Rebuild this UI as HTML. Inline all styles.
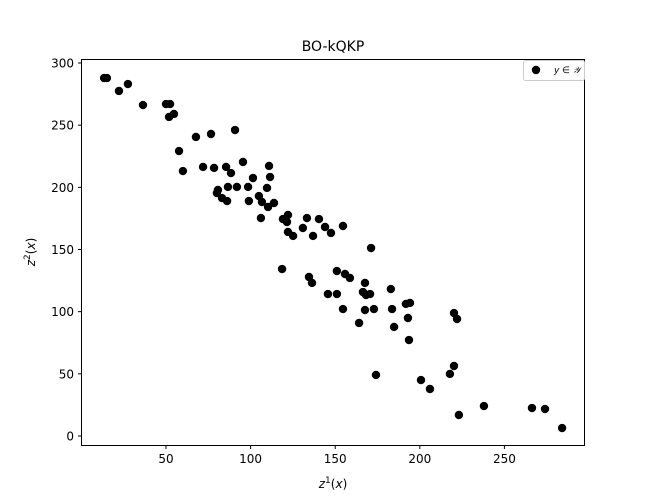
<!DOCTYPE html>
<html><head><meta charset="utf-8"><style>
html,body{margin:0;padding:0;background:#fff;width:650px;height:500px;overflow:hidden}
svg{display:block}
svg text{font-family:"DejaVu Sans","Liberation Sans",sans-serif;fill:#000}
</style></head><body>
<svg id="chart" width="650" height="500">
<rect width="650" height="500" fill="#fff"/>
<text x="333" y="51" font-size="14" text-anchor="middle">BO-kQKP</text>
<g id="marks"></g>
<rect x="81.5" y="59.5" width="503" height="386" fill="none" stroke="#000" stroke-width="1"/>
<g id="xt"></g>
<g id="yt"></g>
<text x="333" y="488" font-size="12" text-anchor="middle" font-style="italic">z<tspan font-style="normal" dy="-5" font-size="9">1</tspan><tspan font-style="normal" dy="5">(</tspan>x<tspan font-style="normal">)</tspan></text>
<text transform="translate(35,252) rotate(-90)" font-size="12" text-anchor="middle" font-style="italic">z<tspan font-style="normal" dy="-5" font-size="9">2</tspan><tspan font-style="normal" dy="5">(</tspan>x<tspan font-style="normal">)</tspan></text>
<g>
<rect x="523.5" y="60.5" width="61" height="20" rx="2" fill="#fff" stroke="#ccc"/>
<circle cx="536" cy="70" r="4.2" fill="#000"/>
<text x="554" y="73" font-size="9" font-style="italic" font-family="Liberation Serif,serif">y ∈ 𝒴</text>
</g>
</svg>
<script>
const xs=[13.4,15.1,22.2,27.5,36.4,50.0,52.4,51.8,54.7,67.7,76.6,90.8,57.7,60.0,71.9,78.4,85.5,88.4,95.5,101.4,110.9,111.5,109.7,86.6,91.9,98.5,80.7,80.1,83.1,86.1,99.0,104.9,106.7,110.3,113.8,106.1,119.1,122.1,121.5,122.1,125.1,133.3,130.9,136.9,140.4,144.0,147.5,154.6,171.2,118.6,134.5,136.3,151.0,155.8,158.7,167.6,166.4,170.6,168.2,145.7,151.0,182.9,154.6,167.6,172.9,183.6,191.8,194.2,193.0,164.1,184.8,193.6,220.2,222.0,174.1,200.7,206.0,220.2,217.8,223.1,237.9,266.3,274.0,284.1];
const ys=[287.9,287.9,277.5,283.1,266.2,267.0,267.0,256.6,259.0,240.5,242.9,246.1,229.2,213.1,216.4,215.6,216.4,211.5,220.4,207.5,217.2,208.3,199.5,200.3,200.3,200.3,197.9,195.4,191.4,189.0,189.0,193.0,188.2,184.2,187.4,175.3,174.5,177.8,172.1,164.1,160.9,175.3,167.3,160.9,174.5,168.1,163.3,168.9,151.2,134.3,127.9,123.1,132.7,130.3,127.1,123.1,115.8,114.2,113.4,114.2,114.2,118.2,102.1,101.3,102.1,102.1,106.2,107.0,94.9,90.9,87.7,77.2,98.9,94.1,49.1,45.0,37.8,56.3,49.9,16.9,24.1,22.5,21.7,6.4];
const xTicks=[50,100,150,200,250];
const yTicks=[0,50,100,150,200,250,300];
const X=v=>81.4+v*1.692;
const Y=v=>436-v*1.2433;
const NS="http://www.w3.org/2000/svg";
const marks=document.getElementById('marks');
xs.forEach((v,i)=>{
  const c=document.createElementNS(NS,'circle');
  c.setAttribute('cx',X(v));c.setAttribute('cy',Y(ys[i]));c.setAttribute('r',4.2);c.setAttribute('fill','#000');
  
  
  marks.appendChild(c);
});
const xt=document.getElementById('xt');
xTicks.forEach(t=>{
  const l=document.createElementNS(NS,'line');
  l.setAttribute('x1',X(t));l.setAttribute('x2',X(t));l.setAttribute('y1',445.5);l.setAttribute('y2',449);l.setAttribute('stroke','#000');
  
  
  xt.appendChild(l);
  const s=document.createElementNS(NS,'text');
  s.setAttribute('x',X(t));s.setAttribute('y',463);s.setAttribute('font-size','12');s.setAttribute('text-anchor','middle');s.textContent=t;
  
  
  xt.appendChild(s);
});
const yt=document.getElementById('yt');
yTicks.forEach(t=>{
  const l=document.createElementNS(NS,'line');
  l.setAttribute('x1',78);l.setAttribute('x2',81.5);l.setAttribute('y1',Y(t));l.setAttribute('y2',Y(t));l.setAttribute('stroke','#000');
  
  
  yt.appendChild(l);
  const s=document.createElementNS(NS,'text');
  s.setAttribute('x',74);s.setAttribute('y',Y(t)+4.5);s.setAttribute('font-size','12');s.setAttribute('text-anchor','end');s.textContent=t;
  
  
  yt.appendChild(s);
});
</script>
</body></html>
